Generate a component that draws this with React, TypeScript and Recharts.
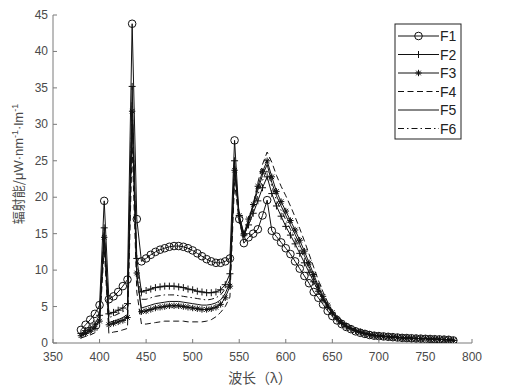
import React from 'react';
import { LineChart, Line, XAxis, YAxis } from 'recharts';

const wavelengths = [
  380, 385, 390, 395, 400, 405, 410, 415, 420, 425, 430, 435, 440, 445,
  450, 455, 460, 465, 470, 475, 480, 485, 490, 495, 500, 505, 510, 515, 520, 525, 530, 535, 540,
  545, 550, 555, 560, 565, 570, 575, 580, 585,
  590, 595, 600, 605, 610, 615, 620, 625, 630, 635, 640, 645, 650,
  655, 660, 665, 670, 675, 680, 685, 690, 695, 700, 705, 710, 715, 720, 725, 730, 735, 740, 745, 750, 755, 760, 765, 770, 775, 780,
];

const f1 = [
  1.8, 2.5, 3.2, 4.0, 5.2, 19.5, 6.0, 6.4, 7.0, 7.8, 8.7, 43.8, 17.0, 11.2,
  11.6, 12.1, 12.5, 12.8, 13.0, 13.2, 13.3, 13.3, 13.2, 13.0, 12.7, 12.3, 11.9, 11.5, 11.2, 11.0, 11.0, 11.2, 11.6,
  27.8, 17.0, 13.7, 14.5, 15.0, 15.6, 17.5, 19.6, 15.4,
  14.6, 13.8, 13.0, 12.2, 11.2, 10.2, 9.2, 8.2, 7.0, 6.2, 5.3, 4.4, 3.7,
  3.1, 2.6, 2.2, 1.9, 1.6, 1.4, 1.25, 1.1, 1.0, 0.95, 0.9, 0.85, 0.8, 0.75, 0.7, 0.68, 0.65, 0.62, 0.6, 0.57, 0.55, 0.52, 0.5, 0.47, 0.44, 0.35,
];

const f2 = [
  1.3, 1.7, 2.1, 2.6, 3.8, 15.8, 4.0, 4.2, 4.5, 4.8, 5.4, 35.2, 11.6, 7.0,
  7.2, 7.4, 7.6, 7.7, 7.8, 7.8, 7.8, 7.7, 7.6, 7.4, 7.3, 7.1, 7.0, 6.9, 6.9, 7.0, 7.3, 8.0, 9.5,
  25.0, 17.5, 14.8, 16.2, 17.8, 19.5, 21.3, 22.8, 20.5,
  18.8, 17.4, 16.0, 14.8, 13.6, 12.3, 11.0, 9.7, 8.4, 7.1, 5.9, 4.9, 4.0,
  3.3, 2.7, 2.3, 2.0, 1.7, 1.5, 1.3, 1.15, 1.05, 0.98, 0.92, 0.87, 0.82, 0.77, 0.72, 0.69, 0.66, 0.63, 0.61, 0.58, 0.56, 0.53, 0.51, 0.48, 0.45, 0.36,
];

const f3 = [
  1.0, 1.3, 1.6, 2.0, 3.0, 14.5, 2.5, 2.7, 2.9, 3.1, 3.5, 31.8, 9.6, 4.3,
  4.4, 4.6, 4.8, 4.9, 5.0, 5.1, 5.1, 5.1, 5.0, 4.9, 4.8, 4.7, 4.6, 4.6, 4.7, 4.9, 5.3, 6.2, 7.8,
  23.7, 17.5, 15.0, 17.0, 19.0, 21.5, 23.5, 25.0, 22.8,
  20.8, 19.4, 18.1, 16.8, 15.5, 14.1, 12.6, 11.0, 9.4, 7.8, 6.4, 5.2, 4.2,
  3.4, 2.8, 2.3, 2.0, 1.7, 1.5, 1.3, 1.15, 1.05, 0.97, 0.91, 0.86, 0.81, 0.76, 0.71, 0.68, 0.65, 0.62, 0.6, 0.57, 0.55, 0.52, 0.5, 0.47, 0.44, 0.36,
];

const f4 = [
  0.7, 0.9, 1.1, 1.4, 2.2, 13.0, 1.3, 1.5, 1.6, 1.8, 2.0, 27.0, 7.0, 2.6,
  2.6, 2.7, 2.8, 2.9, 3.0, 3.0, 3.0, 3.0, 3.0, 2.9, 2.9, 2.9, 2.9, 3.0, 3.2, 3.6, 4.2, 5.0, 6.3,
  22.0, 16.5, 14.5, 16.5, 19.0, 22.0, 24.5, 26.2, 24.8,
  23.0, 21.5, 20.2, 18.8, 17.3, 15.7, 14.0, 12.2, 10.4, 8.6, 7.0, 5.6, 4.4,
  3.5, 2.9, 2.4, 2.0, 1.7, 1.5, 1.3, 1.15, 1.05, 0.97, 0.91, 0.86, 0.81, 0.76, 0.71, 0.68, 0.65, 0.62, 0.6, 0.57, 0.55, 0.52, 0.5, 0.47, 0.44, 0.36,
];

const f5 = [
  1.1, 1.4, 1.8, 2.2, 3.3, 15.0, 2.8, 3.0, 3.2, 3.5, 3.9, 30.0, 9.0, 4.8,
  5.0, 5.2, 5.4, 5.5, 5.6, 5.7, 5.7, 5.7, 5.6, 5.5, 5.4, 5.3, 5.2, 5.2, 5.3, 5.5, 5.9, 6.8, 8.3,
  24.0, 17.0, 14.6, 16.8, 18.8, 21.0, 23.0, 24.5, 22.0,
  20.2, 18.8, 17.5, 16.2, 14.9, 13.5, 12.0, 10.5, 9.0, 7.5, 6.2, 5.0, 4.1,
  3.4, 2.8, 2.3, 2.0, 1.7, 1.5, 1.3, 1.15, 1.05, 0.97, 0.91, 0.86, 0.81, 0.76, 0.71, 0.68, 0.65, 0.62, 0.6, 0.57, 0.55, 0.52, 0.5, 0.47, 0.44, 0.36,
];

const f6 = [
  1.2, 1.5, 1.9, 2.4, 3.5, 15.2, 3.5, 3.7, 4.0, 4.3, 4.7, 33.0, 10.5, 6.0,
  6.0, 6.2, 6.4, 6.5, 6.6, 6.6, 6.6, 6.5, 6.4, 6.3, 6.2, 6.1, 6.0, 5.9, 6.0, 6.2, 6.6, 7.4, 8.7,
  24.5, 17.0, 14.6, 16.5, 18.3, 20.3, 22.3, 23.8, 21.5,
  19.6, 18.2, 16.9, 15.6, 14.3, 13.0, 11.6, 10.2, 8.8, 7.4, 6.1, 5.0, 4.0,
  3.3, 2.7, 2.3, 2.0, 1.7, 1.5, 1.3, 1.15, 1.05, 0.98, 0.92, 0.87, 0.82, 0.77, 0.72, 0.69, 0.66, 0.63, 0.61, 0.58, 0.56, 0.53, 0.51, 0.48, 0.45, 0.36,
];

const xTicks = [350, 400, 450, 500, 550, 600, 650, 700, 750, 800];
const yTicks = [0, 5, 10, 15, 20, 25, 30, 35, 40, 45];
const seriesNames = ['F1', 'F2', 'F3', 'F4', 'F5', 'F6'];

const data = wavelengths.map((w, i) => ({
  w,
  F1: f1[i],
  F2: f2[i],
  F3: f3[i],
  F4: f4[i],
  F5: f5[i],
  F6: f6[i],
}));

const INK = '#111';
const AXIS = '#7a7a7a';
const TEXT = '#4a4a4a';
const FONT = '"Liberation Sans", Arial, sans-serif';
const CJK = '"Noto Sans CJK SC", sans-serif';
const DASH4 = '6 3.5';
const DASH6 = '6 3 1.5 3';

const CircleMark = ({ cx, cy }: any) =>
  cx == null || cy == null ? null : (
    <circle cx={cx} cy={cy} r={3.8} fill="none" stroke={INK} strokeWidth={1} />
  );

const PlusMark = ({ cx, cy }: any) =>
  cx == null || cy == null ? null : (
    <g stroke={INK} strokeWidth={1}>
      <line x1={cx - 3.5} y1={cy} x2={cx + 3.5} y2={cy} />
      <line x1={cx} y1={cy - 3.5} x2={cx} y2={cy + 3.5} />
    </g>
  );

const StarMark = ({ cx, cy }: any) =>
  cx == null || cy == null ? null : (
    <g stroke={INK} strokeWidth={1}>
      <line x1={cx - 3.2} y1={cy} x2={cx + 3.2} y2={cy} />
      <line x1={cx} y1={cy - 3.2} x2={cx} y2={cy + 3.2} />
      <line x1={cx - 2.3} y1={cy - 2.3} x2={cx + 2.3} y2={cy + 2.3} />
      <line x1={cx - 2.3} y1={cy + 2.3} x2={cx + 2.3} y2={cy - 2.3} />
    </g>
  );

const XTick = ({ x, y, payload }: any) => (
  <g>
    <line x1={x} y1={y} x2={x} y2={y - 4} stroke={AXIS} strokeWidth={1} />
    <text x={x} y={y + 18} textAnchor="middle" fontSize={12} fontFamily={FONT} fill={TEXT}>
      {payload.value}
    </text>
  </g>
);

const YTick = ({ x, y, payload }: any) => (
  <g>
    <line x1={x} y1={y} x2={x + 4} y2={y} stroke={AXIS} strokeWidth={1} />
    <text x={x - 5} y={y + 4} textAnchor="end" fontSize={12} fontFamily={FONT} fill={TEXT}>
      {payload.value}
    </text>
  </g>
);

const YLabel = () => (
  <text
    transform="translate(15,156) rotate(-90)"
    textAnchor="middle"
    fontSize={13}
    fontFamily={CJK}
    fill={TEXT}
  >
    辐射能/
    <tspan fontFamily={FONT}>μW·nm</tspan>
    <tspan dy={-5} fontSize={9} fontFamily={FONT}>-1</tspan>
    <tspan dy={5} fontFamily={FONT}>·lm</tspan>
    <tspan dy={-5} fontSize={9} fontFamily={FONT}>-1</tspan>
  </text>
);

const XLabel = () => (
  <text x={252} y={375} textAnchor="middle" fontSize={14} fontFamily={CJK} fill={TEXT}>
    波长（λ）
  </text>
);

const LegendBox = () => {
  const left = 387;
  const top = 16;
  const w = 66;
  const h = 115;
  const rowH = 18.5;
  const firstY = 28;
  return (
    <g>
      <rect x={left} y={top} width={w} height={h} fill="#fff" stroke="#222" strokeWidth={1} />
      {seriesNames.map((n, i) => {
        const cy = firstY + i * rowH;
        const x1 = left + 3;
        const x2 = left + 44;
        const mx = (x1 + x2) / 2;
        let dash: string | undefined;
        if (n === 'F4') dash = DASH4;
        if (n === 'F6') dash = DASH6;
        return (
          <g key={n}>
            <line x1={x1} y1={cy} x2={x2} y2={cy} stroke={INK} strokeWidth={1} strokeDasharray={dash} />
            {n === 'F1' && <CircleMark cx={mx} cy={cy} />}
            {n === 'F2' && <PlusMark cx={mx} cy={cy} />}
            {n === 'F3' && <StarMark cx={mx} cy={cy} />}
            <text x={left + 45} y={cy + 5} fontSize={14} fontFamily={FONT} fill="#222">
              {n}
            </text>
          </g>
        );
      })}
    </g>
  );
};

export default function App() {
  return (
    <div style={{ width: 506, height: 381 }}>
      <LineChart
        width={506}
        height={381}
        data={data}
        margin={{ top: 7, right: 42, left: 5, bottom: 6 }}
      >
        <XAxis
          dataKey="w"
          type="number"
          domain={[350, 800]}
          ticks={xTicks}
          tickLine={false}
          tickSize={0}
          tickMargin={0}
          tick={<XTick />}
          axisLine={{ stroke: AXIS, strokeWidth: 1 }}
          height={40}
          interval={0}
          allowDataOverflow
        />
        <YAxis
          type="number"
          domain={[0, 45]}
          ticks={yTicks}
          tickLine={false}
          tickSize={0}
          tickMargin={0}
          tick={<YTick />}
          axisLine={{ stroke: AXIS, strokeWidth: 1 }}
          width={40}
          interval={0}
          allowDataOverflow
        />
        <Line dataKey="F4" stroke={INK} strokeWidth={1} strokeDasharray={DASH4} dot={false} isAnimationActive={false} />
        <Line dataKey="F6" stroke={INK} strokeWidth={1} strokeDasharray={DASH6} dot={false} isAnimationActive={false} />
        <Line dataKey="F5" stroke={INK} strokeWidth={1} dot={false} isAnimationActive={false} />
        <Line dataKey="F3" stroke={INK} strokeWidth={1} dot={<StarMark />} isAnimationActive={false} />
        <Line dataKey="F2" stroke={INK} strokeWidth={1} dot={<PlusMark />} isAnimationActive={false} />
        <Line dataKey="F1" stroke={INK} strokeWidth={1} dot={<CircleMark />} isAnimationActive={false} />
        <YLabel />
        <XLabel />
        <LegendBox />
      </LineChart>
    </div>
  );
}
